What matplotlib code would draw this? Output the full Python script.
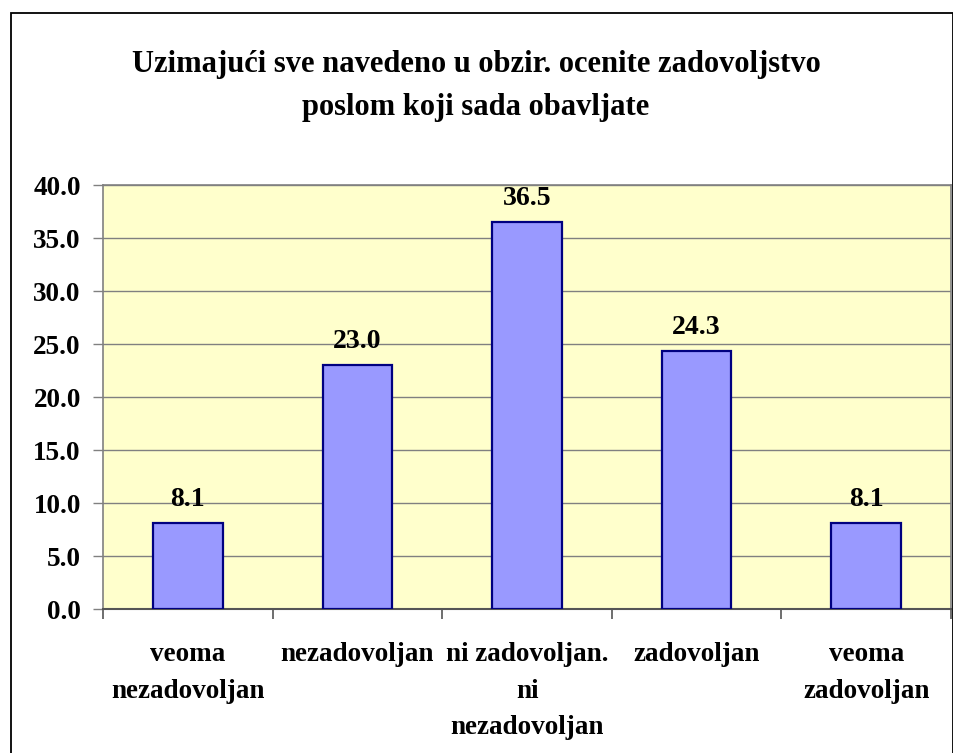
import matplotlib
matplotlib.use('Agg')
import matplotlib.pyplot as plt
from matplotlib.patches import Rectangle
from matplotlib.ticker import MultipleLocator, FixedLocator

plt.rcParams['font.family'] = ['Liberation Serif', 'DejaVu Serif']
plt.rcParams['font.weight'] = 'bold'

# Survey answers and percentages
categories = ['veoma\nnezadovoljan', 'nezadovoljan', 'ni zadovoljan.\nni\nnezadovoljan',
              'zadovoljan', 'veoma\nzadovoljan']
values = [8.1, 23.0, 36.5, 24.3, 8.1]
title = 'Uzimajući sve navedeno u obzir. ocenite zadovoljstvo\nposlom koji sada obavljate'

fig = plt.figure(figsize=(9.54, 7.53), dpi=100)
ax = fig.add_axes([0.108, 0.1912, 0.8889, 0.5631])

x = range(len(values))
ax.bar(x, values, width=0.41, color='#9999FF', edgecolor='#000080', linewidth=1.6, zorder=3)

for xi, v in zip(x, values):
    ax.text(xi, v + 1.05, f'{v:.1f}', ha='center', va='bottom', fontsize=20, fontweight='bold')

ax.set_facecolor('#FFFFCC')
ax.set_xlim(-0.5, len(values) - 0.5)
ax.set_ylim(0, 40)
ax.yaxis.set_major_locator(MultipleLocator(5))
ax.yaxis.set_major_formatter(matplotlib.ticker.FormatStrFormatter('%.1f'))
ax.grid(axis='y', color='#808080', linewidth=1.0, zorder=0)

# labels at centres, tick marks at category boundaries
ax.set_xticks(list(x))
ax.set_xticklabels(categories, fontsize=19.5, fontweight='bold', linespacing=1.6, va='top')
ax.tick_params(axis='x', which='major', length=0, pad=24)
ax.xaxis.set_minor_locator(FixedLocator([i - 0.5 for i in range(len(values) + 1)]))
ax.tick_params(axis='x', which='minor', length=7, width=1.2, color='#555555', direction='out')
ax.tick_params(axis='y', length=7, width=1.0, color='#808080', pad=9, labelsize=19.5)
for lbl in ax.get_yticklabels():
    lbl.set_fontweight('bold')

for side in ['top', 'right', 'left']:
    ax.spines[side].set_color('#808080')
    ax.spines[side].set_linewidth(1.2)
ax.spines['bottom'].set_color('#555555')
ax.spines['bottom'].set_linewidth(1.5)

fig.text(0.499, 0.933, title, ha='center', va='top', fontsize=22, fontweight='bold',
         linespacing=1.6)

# outer chart frame
fig.patches.append(Rectangle((11 / 954, -0.01), 942 / 954, 1 - 13 / 753 + 0.01,
                             transform=fig.transFigure, fill=False,
                             edgecolor='black', linewidth=1.3))

fig.savefig('out.png', dpi=100)
